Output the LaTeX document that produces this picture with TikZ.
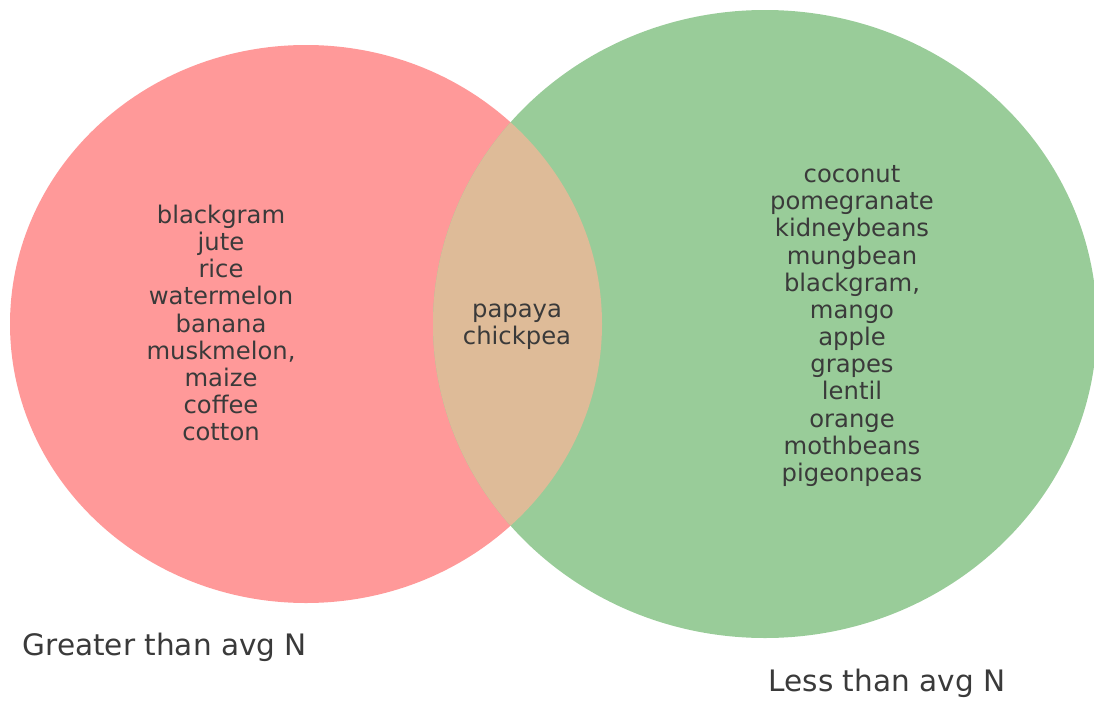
\documentclass[tikz,border=0pt]{standalone}
\usepackage{fontspec}
\setmainfont{DejaVu Sans}

\begin{document}
\begin{tikzpicture}[x=0.01cm, y=-0.01cm]
    % Define colours
    \definecolor{greaterColour}{HTML}{FF9999}
    \definecolor{lessColour}{HTML}{99CC99}
    \definecolor{bothColour}{HTML}{DEBB98}
    \definecolor{textColour}{HTML}{3A3A3A}

    % Define styles
    \tikzset{
        setText/.style={text=textColour, align=center, inner sep=0pt,
            font=\fontsize{6.9}{7.72}\selectfont},
        setLabel/.style={text=textColour, inner sep=0pt,
            font=\fontsize{8.4}{10}\selectfont}
    }

    % Fix page size
    \useasboundingbox (0,0) rectangle (1094,700);

    % Define centres of the two sets
    \coordinate (G) at (306,324);
    \coordinate (L) at (765,324);

    % Draw the two sets
    \fill[greaterColour] (G) ellipse [x radius=296, y radius=279];
    \fill[lessColour] (L) ellipse [x radius=332, y radius=314];

    % Draw the overlap
    \begin{scope}
        \clip (G) ellipse [x radius=296, y radius=279];
        \fill[bothColour] (L) ellipse [x radius=332, y radius=314];
    \end{scope}

    % Label the regions
    \node[setText] (greaterOnly) at (221,323) {blackgram\\jute\\rice\\watermelon\\banana\\muskmelon,\\maize\\coffee\\cotton};
    \node[setText] (both) at (517,327) {papaya\\chickpea};
    \node[setText] (lessOnly) at (852,326) {coconut\\pomegranate\\kidneybeans\\mungbean\\blackgram,\\mango\\apple\\grapes\\lentil\\orange\\mothbeans\\pigeonpeas};

    % Label the sets
    \node[setLabel, anchor=west] (greaterLabel) at (22,647) {Greater than avg N};
    \node[setLabel, anchor=west] (lessLabel) at (768,683) {Less than avg N};

\end{tikzpicture}
\end{document}
